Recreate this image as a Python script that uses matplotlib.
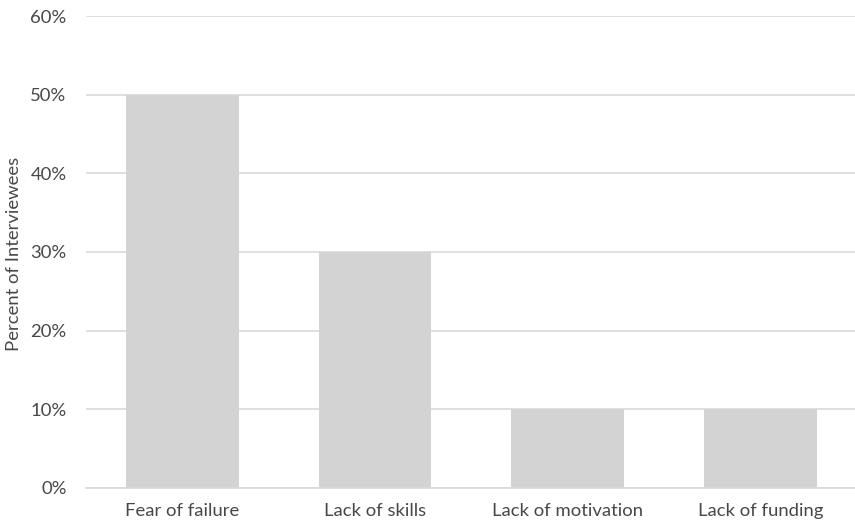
import matplotlib
matplotlib.use("Agg")
import matplotlib.pyplot as plt
from matplotlib.ticker import PercentFormatter

categories = ["Fear of failure", "Lack of skills", "Lack of motivation", "Lack of funding"]
percent_values = [50, 30, 10, 10]
y_ticks = [0, 10, 20, 30, 40, 50, 60]

plt.rcParams["font.family"] = ["Lato", "DejaVu Sans"]
text_color = "#474747"
font_size = 13.3

fig = plt.figure(figsize=(8.55, 5.25), dpi=100)
ax = fig.add_axes([0.1006, 0.0705, 0.9017, 0.899])

x = range(len(categories))
ax.bar(x, percent_values, width=0.585, color="#d3d3d3", zorder=2)

ax.set_xlim(-0.5, len(categories) - 0.5)
ax.set_ylim(0, 60)
ax.set_yticks(y_ticks)
ax.yaxis.set_major_formatter(PercentFormatter(decimals=0))
ax.set_xticks(list(x))
ax.set_xticklabels(categories)

ax.grid(axis="y", color="#d9d9d9", linewidth=1.2, zorder=0)
for side in ("top", "right", "left"):
    ax.spines[side].set_visible(False)
ax.spines["bottom"].set_color("#d9d9d9")
ax.spines["bottom"].set_linewidth(1.2)
ax.spines["bottom"].set_zorder(3)

ax.tick_params(axis="both", length=0, colors=text_color, labelsize=font_size)
ax.tick_params(axis="y", pad=14)
ax.tick_params(axis="x", pad=11)

# Axis title placed in figure coordinates so it sits close to the left edge
fig.text(0.0165, 0.517, "Percent of Interviewees", rotation=90,
         ha="center", va="center", color=text_color, fontsize=font_size)

fig.savefig("out.png", dpi=100)
